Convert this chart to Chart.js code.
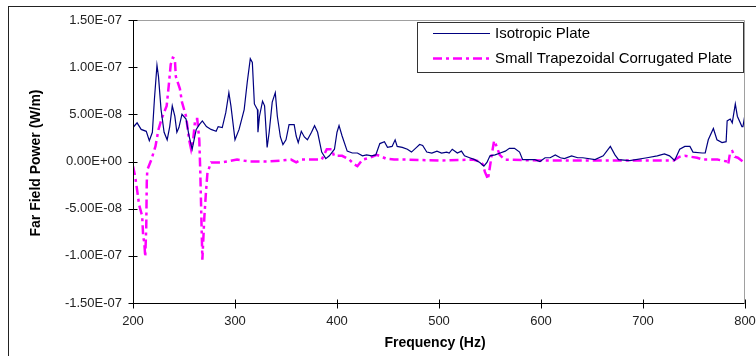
<!DOCTYPE html>
<html>
<head>
<meta charset="utf-8">
<script src="https://cdn.jsdelivr.net/npm/chart.js@4.4.1/dist/chart.umd.min.js"></script>
<style>
  html, body { margin: 0; padding: 0; background: #fff; }
  #wrap { width: 756px; height: 356px; }
</style>
</head>
<body>
<div id="wrap"><canvas id="chart" width="756" height="356"></canvas></div>
<script>
// power values below are in units of 1e-8 W/m
const UNIT = 1e-8;

const seriesNames = ["Isotropic Plate", "Small Trapezoidal Corrugated Plate"];

const isoFreq = [
  200, 204, 208, 213, 216, 219, 221, 223.5, 225, 227.5, 230.5, 233.5, 236, 238.5, 241, 243, 245, 248,
  252, 255, 258, 262, 265, 268, 272, 276.5, 281.5, 283.5, 287.5, 291, 294, 296, 300, 304, 309, 312,
  315, 317, 319, 322, 322.5, 324, 327, 329, 331.5, 333.5, 336.5, 339.5, 341.5, 344.5, 347, 350, 353,
  358, 360, 362, 365, 368, 371, 375, 378, 381, 385, 389, 392.5, 397.5, 400, 402, 405, 410, 415, 420,
  425, 429, 434, 438, 442, 446.5, 449.5, 454, 457, 459, 464, 469, 473, 478, 481, 484, 488, 493, 498,
  502.5, 507.5, 510, 513, 518, 522, 525, 530, 535, 540, 544, 547, 550, 555, 560, 565, 569, 574, 579,
  582, 589, 594, 599, 604, 609, 614, 619, 623, 630, 636, 641, 653, 661, 668, 672.5, 676, 687, 704,
  714, 721, 726, 731, 736, 741, 746, 749, 758, 761, 764, 769, 772.5, 777.5, 781.5, 782.5, 785.5,
  787.5, 790.5, 792.5, 797, 798, 800
];
const isoPower = [
  3.6, 4.1, 3.4, 3.2, 2.2, 3.1, 6.6, 10.2, 9.0, 5.5, 3.1, 2.3, 3.7, 5.9, 4.8, 3.1, 3.6, 5.0,
  4.5, 2.7, 1.3, 3.4, 3.9, 4.3, 3.7, 3.4, 3.2, 3.7, 3.6, 5.2, 7.3, 5.9, 2.3, 3.4, 5.5, 8.4,
  10.9, 10.5, 6.1, 5.5, 3.1, 4.8, 6.4, 5.9, 1.5, 3.1, 6.3, 7.3, 4.8, 2.6, 1.8, 2.3, 3.9,
  3.9, 2.7, 2.0, 3.2, 2.6, 2.3, 3.1, 3.8, 3.1, 1.0, 0.3, 0.6, 1.3, 3.1, 3.8, 2.7, 1.1, 0.9, 0.9,
  0.6, 0.7, 0.6, 0.7, 1.9, 2.1, 1.5, 1.6, 2.3, 1.6, 1.5, 1.3, 1.0, 1.5, 1.8, 1.7, 1.0, 0.9, 1.1,
  0.9, 1.0, 0.9, 1.3, 0.9, 1.1, 0.6, 0.4, 0.2, -0.1, -0.5, -0.1, 0.6, 0.7, 0.9, 1.1, 1.4, 1.4, 1.0,
  0.2, 0.2, 0.2, 0.0, 0.4, 0.4, 0.7, 0.4, 0.3, 0.6, 0.4, 0.4, 0.2, 0.6, 1.6, 0.7, 0.2, 0.1, 0.4,
  0.6, 0.8, 0.6, 0.1, 1.3, 1.6, 1.6, 1.0, 0.9, 0.9, 2.3, 3.5, 2.3, 2.0, 2.1, 4.3, 4.5,
  4.1, 6.1, 4.8, 3.7, 3.7, 5.0
];

const trapFreq = [
  200, 202, 204, 206, 208, 209, 210, 211, 212, 213, 213.5, 214, 218, 222, 225, 228, 233, 235, 237,
  239, 241, 242, 246, 248, 252, 255, 257, 259, 261, 263, 265, 266, 267, 268, 270, 271.5, 273, 276.5,
  287, 302, 314, 333, 345, 355, 360, 365, 385, 390, 395, 397, 405, 412, 417, 420, 425, 432, 439,
  444, 448, 456, 470, 500, 533, 540, 543, 545, 547, 548, 550, 552, 554, 556.5, 559.5, 564.5, 600,
  650, 700, 730, 736, 741, 753, 759, 773, 782.5, 783.5, 785.5, 787.5, 790, 793, 798, 800
];
const trapPower = [
  -0.5, -1.5, -3.0, -4.6, -5.4, -5.8, -8.0, -8.5, -10.1, -6.9, -2.2, -0.9, 0.2, 1.6, 3.4, 4.5, 5.9, 8.0, 10.3,
  11.0, 10.9, 9.0, 7.7, 6.3, 4.8, 2.3, 1.3, 2.3, 4.5, 4.5, 2.3, -1.2, -5.8, -10.4, -5.8, -3.3, -1.2, -0.1,
  -0.1, 0.2, 0.0, 0.0, 0.1, 0.2, -0.1, 0.2, 0.2, 1.3, 1.3, 0.6, 0.6, 0.2, -0.3, -0.5, 0.2, 0.4, 0.7,
  0.5, 0.3, 0.2, 0.2, 0.1, 0.2, 0.0, -0.3, -1.1, -1.6, -1.9, -0.5, 0.9, 2.2, 1.6, 0.7, 0.2, 0.1,
  0.1, 0.1, 0.1, 0.5, 0.6, 0.4, 0.2, 0.2, 0.0, -0.3, 1.0, 1.1, 0.5, 0.4, 0.0, 0.0
];

const xTicks = [200, 300, 400, 500, 600, 700, 800];
const yTicks = [-1.5e-7, -1.0e-7, -5.0e-8, 0, 5.0e-8, 1.0e-7, 1.5e-7];

const toPoints = (xs, ys) => xs.map((f, i) => ({ x: f, y: ys[i] * UNIT }));

// Excel-style scientific notation, e.g. 1.50E-07
function sci(v) {
  if (Math.abs(v) < 1e-20) return "0.00E+00";
  const parts = v.toExponential(2).split("e");
  const n = parseInt(parts[1], 10);
  return parts[0] + "E" + (n < 0 ? "-" : "+") + String(Math.abs(n)).padStart(2, "0");
}

// frame, axes with crossing ticks, axis titles and boxed legend
const excelFrame = {
  id: "excelFrame",
  beforeDraw(chart) {
    const ctx = chart.ctx;
    ctx.save();
    ctx.fillStyle = "#fff";
    ctx.fillRect(0, 0, chart.width, chart.height);
    ctx.strokeStyle = "#222";
    ctx.lineWidth = 1;
    ctx.strokeRect(8.5, 6.5, 800, 400);
    ctx.restore();
  },
  afterDatasetsDraw(chart) {
    const ctx = chart.ctx;
    const { left, right, top, bottom } = chart.chartArea;
    const xs = chart.scales.x, ys = chart.scales.y;
    const L = Math.round(left) + 0.5, B = Math.round(bottom) + 0.5;
    const R = Math.round(right) - 0.5, T = Math.round(top) + 0.5;
    ctx.save();
    ctx.lineWidth = 1;

    ctx.strokeStyle = "#a0a0a0";
    ctx.beginPath();
    ctx.moveTo(L, T); ctx.lineTo(R, T); ctx.lineTo(R, B);
    ctx.stroke();

    ctx.strokeStyle = "#000";
    ctx.beginPath();
    ctx.moveTo(L, T); ctx.lineTo(L, B); ctx.lineTo(R, B);
    yTicks.forEach(v => {
      const y = Math.round(ys.getPixelForValue(v)) + 0.5;
      ctx.moveTo(L - 5, y); ctx.lineTo(L + 4, y);
    });
    xTicks.forEach(v => {
      const x = Math.round(xs.getPixelForValue(v)) + 0.5;
      ctx.moveTo(x, B - 4); ctx.lineTo(x, B + 5);
    });
    ctx.stroke();

    // axis titles
    ctx.fillStyle = "#000";
    ctx.font = "bold 14px 'Liberation Sans', Arial, sans-serif";
    ctx.textAlign = "center";
    ctx.textBaseline = "middle";
    ctx.fillText("Frequency (Hz)", 435, 343);
    ctx.translate(36, 163);
    ctx.rotate(-Math.PI / 2);
    ctx.fillText("Far Field Power (W/m)", 0, 0);
    ctx.setTransform(1, 0, 0, 1, 0, 0);

    // legend
    const bx = 417, by = 22, bw = 327, bh = 51;
    ctx.fillStyle = "#fff";
    ctx.fillRect(bx, by, bw, bh);
    ctx.strokeStyle = "#333";
    ctx.strokeRect(bx + 0.5, by + 0.5, bw - 1, bh - 1);
    ctx.font = "15px 'Liberation Sans', Arial, sans-serif";
    ctx.textAlign = "left";
    chart.data.datasets.forEach((ds, i) => {
      const y = by + 11.5 + i * 25;
      ctx.strokeStyle = ds.borderColor;
      ctx.lineWidth = ds.borderWidth;
      ctx.setLineDash(ds.borderDash || []);
      ctx.beginPath();
      ctx.moveTo(433, y); ctx.lineTo(490, y);
      ctx.stroke();
      ctx.setLineDash([]);
      ctx.fillStyle = "#000";
      ctx.fillText(ds.label, 495, y + 0.5);
    });
    ctx.restore();
  }
};

new Chart(document.getElementById("chart"), {
  type: "line",
  data: {
    datasets: [
      {
        label: seriesNames[0],
        data: toPoints(isoFreq, isoPower),
        borderColor: "#000080",
        borderWidth: 1.2,
        pointRadius: 0,
        tension: 0
      },
      {
        label: seriesNames[1],
        data: toPoints(trapFreq, trapPower),
        borderColor: "#ff00ff",
        borderWidth: 2.5,
        borderDash: [9, 4, 3, 4],
        pointRadius: 0,
        tension: 0
      }
    ]
  },
  options: {
    responsive: false,
    animation: false,
    devicePixelRatio: 1,
    layout: { padding: { left: 0, top: 20, right: 11, bottom: 0 } },
    plugins: { legend: { display: false }, tooltip: { enabled: false } },
    scales: {
      x: {
        type: "linear",
        min: 200,
        max: 800,
        afterBuildTicks: s => { s.ticks = xTicks.map(v => ({ value: v })); },
        afterFit: s => { s.height = 53; s.paddingLeft = 0; s.paddingRight = 0; },
        grid: { display: false, drawTicks: false },
        border: { display: false },
        ticks: {
          padding: 11,
          color: "#222",
          maxRotation: 0,
          font: { family: "'Liberation Sans', Arial, sans-serif", size: 13 }
        }
      },
      y: {
        min: -1.5e-7,
        max: 1.5e-7,
        afterBuildTicks: s => { s.ticks = yTicks.map(v => ({ value: v })); },
        afterFit: s => { s.width = 133; s.paddingTop = 0; s.paddingBottom = 0; },
        grid: { display: false, drawTicks: false },
        border: { display: false },
        ticks: {
          padding: 11,
          color: "#222",
          callback: v => sci(v),
          font: { family: "'Liberation Sans', Arial, sans-serif", size: 13 }
        }
      }
    }
  },
  plugins: [excelFrame]
});
</script>
</body>
</html>
